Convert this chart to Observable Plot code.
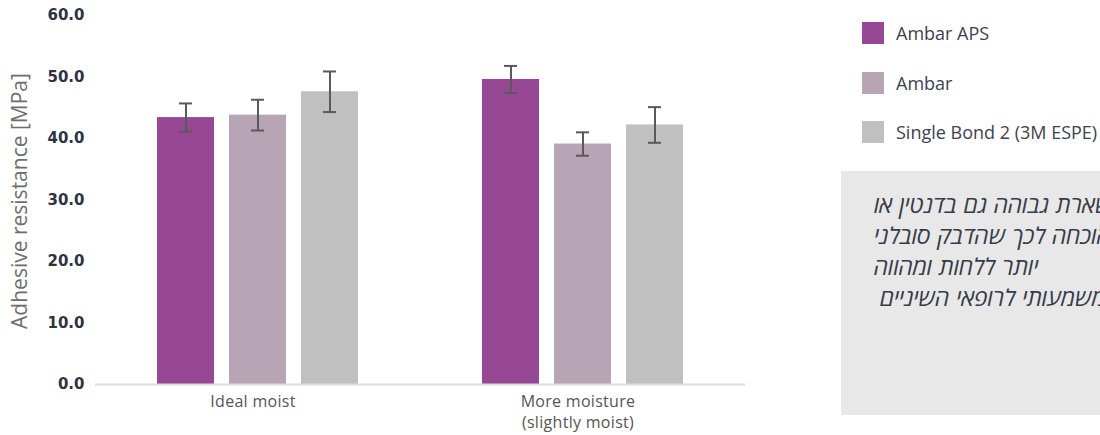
<!DOCTYPE html>
<html>
<head>
<meta charset="utf-8">
<script src="https://cdn.jsdelivr.net/npm/d3@7"></script>
<script src="https://cdn.jsdelivr.net/npm/@observablehq/plot@0.6"></script>
<style>
  html, body { margin: 0; padding: 0; background: #fff; width: 1100px; height: 435px; overflow: hidden; }
  #wrap { position: relative; width: 1100px; height: 435px; }
  #chart { position: absolute; left: 0; top: 0; }
  #chart g[aria-label="fx-axis tick label"] { letter-spacing: 0.3px; }
  .ylabel { position: absolute; left: 19px; top: 201px; transform: translate(-50%, -50%) rotate(-90deg);
            font-family: "Open Sans", sans-serif; font-weight: 400; font-size: 21px; color: #6e6e6e; white-space: nowrap; }
  .legend { position: absolute; left: 862px; top: 22px; font-family: "Open Sans", sans-serif; font-size: 18px; color: #3c4250; }
  .legend .row { display: flex; align-items: center; height: 22px; margin-bottom: 27.5px; }
  .legend .sw { width: 22px; height: 22px; margin-right: 12px; }
  .note { position: absolute; left: 841px; top: 171px; width: 460px; height: 244px; background: #e8e8e8; }
  .note .line { direction: rtl; text-align: left; white-space: nowrap; font-family: "Open Sans", "DejaVu Sans", sans-serif;
                font-style: italic; font-weight: 500; font-size: 23px; letter-spacing: 0px; word-spacing: 1px; line-height: 31px; color: #363b48; padding-left: 33px; }
</style>
</head>
<body>
<div id="wrap">
  <div id="chart"></div>
  <div class="ylabel" id="ylabel"></div>
  <div class="legend" id="legend"></div>
  <div class="note" id="note"></div>
</div>
<script>
// ---- data ----
const groups = ["Ideal moist", "More moisture\n(slightly moist)"];
const series = ["Ambar APS", "Ambar", "Single Bond 2 (3M ESPE)"];
const colors = ["#964895", "#b7a4b5", "#c0c0c0"];
const apsValues = [43.4, 49.6];
const ambarValues = [43.8, 39.1];
const sbValues = [47.6, 42.2];
const apsErr = [2.3, 2.2];
const ambarErr = [2.5, 1.9];
const sbErr = [3.3, 2.9];
const yTicks = [0, 10, 20, 30, 40, 50, 60];
const yLabel = "Adhesive resistance [MPa]";
const noteLines = [
  "ההדבקה נשארת גבוהה גם בדנטין או",
  "לח, הוכחה לכך שהדבק סובלני",
  "יותר ללחות ומהווה",
  "יתרון משמעותי לרופאי השיניים"
];

// ---- table ----
const valuesBySeries = [apsValues, ambarValues, sbValues];
const errBySeries = [apsErr, ambarErr, sbErr];
const data = [];
groups.forEach((g, gi) => {
  series.forEach((s, si) => {
    const v = valuesBySeries[si][gi], e = errBySeries[si][gi];
    data.push({group: g, series: s, value: v, lo: v - e, hi: v + e});
  });
});

const chart = Plot.plot({
  width: 1100,
  height: 435,
  marginLeft: 95,
  marginRight: 355,
  marginTop: 15,
  marginBottom: 51,
  style: {fontFamily: "'Open Sans', sans-serif", background: "transparent"},
  fx: {domain: groups, paddingInner: 0, paddingOuter: 0},
  x: {domain: series, paddingInner: 0.214, paddingOuter: 0.848, axis: null},
  y: {domain: [0, 60], axis: null},
  color: {domain: series, range: colors},
  marks: [
    Plot.barY(data, {fx: "group", x: "series", y: "value", fill: "series"}),
    Plot.ruleY([0], {stroke: "#dcdcdc", strokeWidth: 2}),
    Plot.ruleX(data, {fx: "group", x: "series", y1: "lo", y2: "hi", stroke: "#5a5a5a", strokeWidth: 2}),
    Plot.tickY(data, {fx: "group", x: "series", y: "lo", stroke: "#5a5a5a", strokeWidth: 2, insetLeft: 22, insetRight: 22}),
    Plot.tickY(data, {fx: "group", x: "series", y: "hi", stroke: "#5a5a5a", strokeWidth: 2, insetLeft: 22, insetRight: 22}),
    Plot.axisY(yTicks, {tickFormat: d3.format(".1f"), tickSize: 0, tickPadding: 11, fontSize: 15, fontWeight: 700,
      fontFamily: "'DejaVu Sans', sans-serif", fill: "#2d3340", label: null}),
    Plot.axisFx({anchor: "bottom", tickSize: 0, tickPadding: 7, fontSize: 16, fill: "#555", lineHeight: 1.35, dx: -5, label: null})
  ]
});
document.getElementById("chart").appendChild(chart);

document.getElementById("ylabel").textContent = yLabel;

const legend = document.getElementById("legend");
series.forEach((s, i) => {
  const row = document.createElement("div");
  row.className = "row";
  const sw = document.createElement("div");
  sw.className = "sw";
  sw.style.background = colors[i];
  const t = document.createElement("span");
  t.textContent = s;
  row.appendChild(sw); row.appendChild(t);
  legend.appendChild(row);
});

const note = document.getElementById("note");
note.style.paddingTop = "18px";
note.style.boxSizing = "border-box";
noteLines.forEach((l, i) => {
  const d = document.createElement("div");
  d.className = "line";
  if (i === 3) d.style.paddingLeft = "39px";
  d.textContent = l;
  note.appendChild(d);
});
</script>
</body>
</html>
